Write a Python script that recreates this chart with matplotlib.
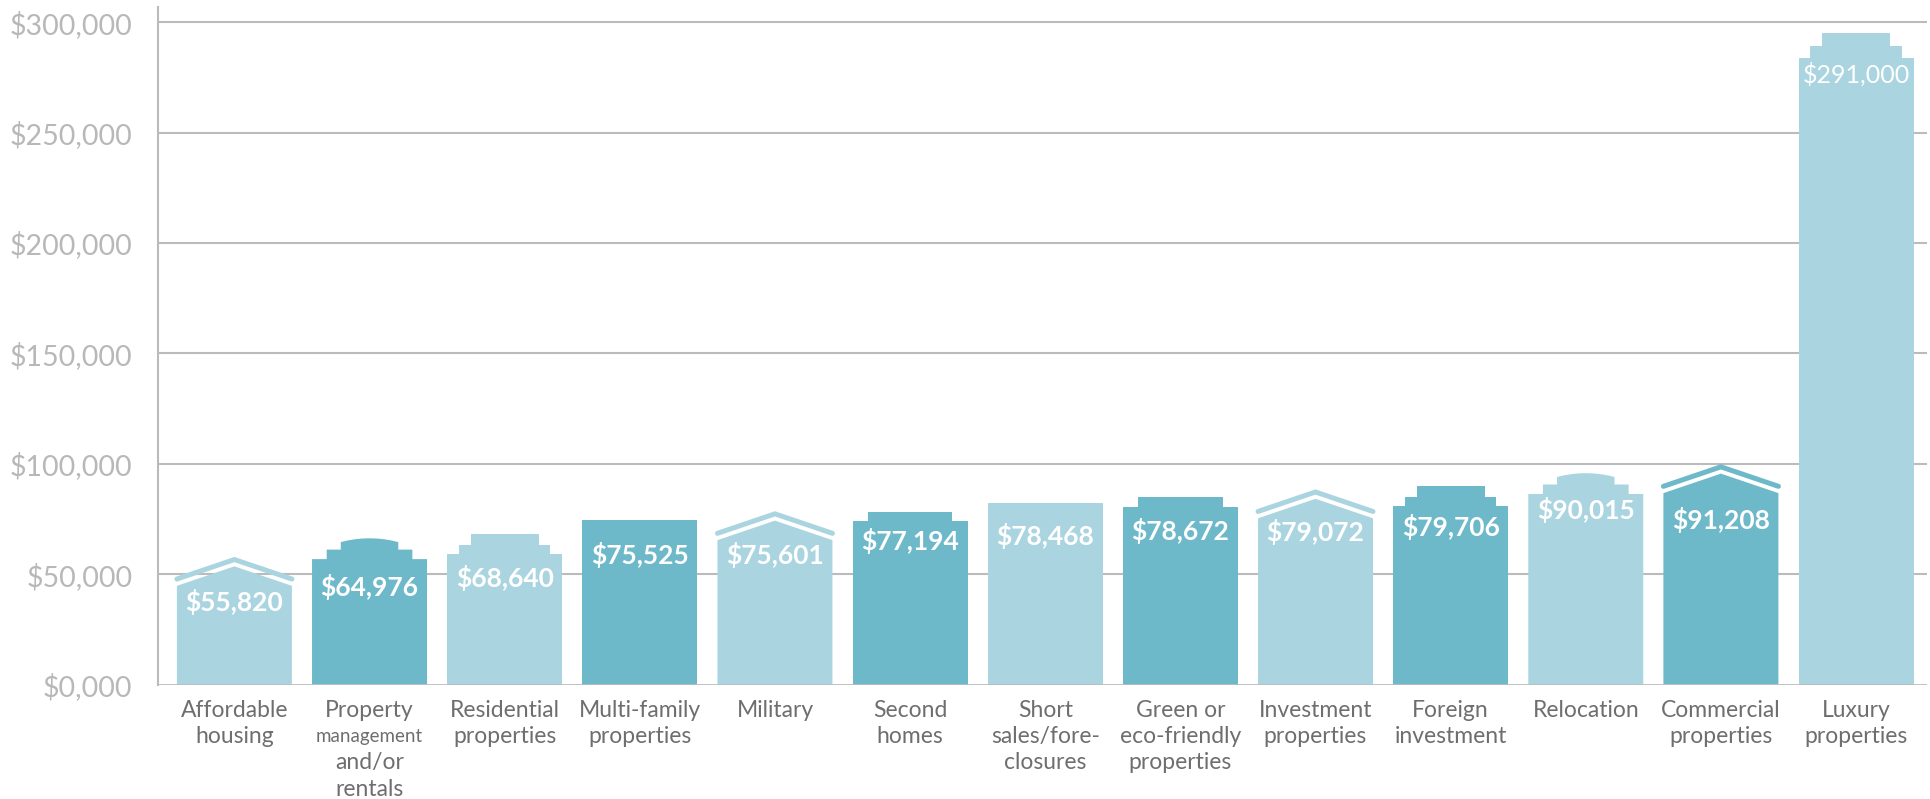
import matplotlib
matplotlib.use("Agg")
import matplotlib.pyplot as plt
from matplotlib.patches import Polygon
import numpy as np

# ---------------- data ----------------
categories = [
    "Affordable\nhousing",
    "Property\nmanagement\nand/or\nrentals",
    "Residential\nproperties",
    "Multi-family\nproperties",
    "Military",
    "Second\nhomes",
    "Short\nsales/fore-\nclosures",
    "Green or\neco-friendly\nproperties",
    "Investment\nproperties",
    "Foreign\ninvestment",
    "Relocation",
    "Commercial\nproperties",
    "Luxury\nproperties",
]
values = [55820, 64976, 68640, 75525, 75601, 77194, 78468, 78672,
          79072, 79706, 90015, 91208, 291000]
value_labels = ["$55,820", "$64,976", "$68,640", "$75,525", "$75,601", "$77,194",
                "$78,468", "$78,672", "$79,072", "$79,706", "$90,015", "$91,208",
                "$291,000"]
# height of the house walls (eaves) as drawn in the picture
eave_heights = [44700, 56800, 59100, 74500, 65400, 73900, 82200, 80500,
                75300, 80800, 86300, 86700, 283900]
roof_types = ["gable", "dome", "step2", "flat", "gable", "step1", "flat", "step1",
              "gable", "step2", "dome", "gable", "step2"]
ytick_values = [0, 50000, 100000, 150000, 200000, 250000, 300000]
ytick_labels = ["$0,000", "$50,000", "$100,000", "$150,000", "$200,000",
                "$250,000", "$300,000"]

# ---------------- style ----------------
LIGHT = "#AAD5E0"
DARK = "#6DB8C9"
colors = [LIGHT if i % 2 == 0 else DARK for i in range(len(categories))]
GRID = "#BBBBBB"
TICK_COLOR = "#B8B8B8"
CAT_COLOR = "#6E6E6E"
FONT = ["Lato", "DejaVu Sans"]
roof_scale = [1.0] * 12 + [1.25]
label_drop_px = [16, 27.7, 24.3, 35, 15, 19.4, 33, 24.3, 13.7, 20.7, 16, 27, 16.3]
label_weight = ["bold"] * 12 + ["normal"]
label_size = [19] * 12 + [18]
small_lines = {(1, 1)}  # (category index, line index) drawn smaller

W_PX, H_PX, DPI = 1931, 799, 100
fig = plt.figure(figsize=(W_PX / DPI, H_PX / DPI), dpi=DPI)
ax_left, ax_right = 158.5 / W_PX, 1927 / W_PX
ax_bottom = (H_PX - 684.5) / H_PX
ax_top = 1 - 7.3 / H_PX
ax = fig.add_axes([ax_left, ax_bottom, ax_right - ax_left, ax_top - ax_bottom])

XMIN, XMAX = -0.5616, 12.525
YMAX = 306800
ax.set_xlim(XMIN, XMAX)
ax.set_ylim(0, YMAX)

ax_w_px = (ax_right - ax_left) * W_PX
ax_h_px = (ax_top - ax_bottom) * H_PX
PY = YMAX / ax_h_px          # data units per pixel (y)
PX = (XMAX - XMIN) / ax_w_px  # data units per pixel (x)

half_w = 0.4255


def roof_profile(kind, s):
    if kind == "flat":
        return [(-1, 0), (1, 0)]
    if kind == "gable":
        return [(-1, 0), (0, 19.5 * s), (1, 0)]
    if kind == "step1":
        a, h = 0.735, 9.5 * s
        return [(-1, 0), (-a, 0), (-a, h), (a, h), (a, 0), (1, 0)]
    if kind == "step2":
        a, b = 0.795, 0.59
        h1, h2 = 9.5 * s, 20 * s
        return [(-1, 0), (-a, 0), (-a, h1), (-b, h1), (-b, h2),
                (b, h2), (b, h1), (a, h1), (a, 0), (1, 0)]
    if kind == "dome":
        a, b = 0.745, 0.5
        h1, h2, sag = 9.5 * s, 17 * s, 3.8 * s
        hw = b * half_w / PX
        R = (hw ** 2 + sag ** 2) / (2 * sag)
        arc = []
        for t in np.linspace(-1, 1, 41):
            dx = t * hw
            arc.append((t * b, h2 + np.sqrt(R ** 2 - dx ** 2) - (R - sag)))
        return ([(-1, 0), (-a, 0), (-a, h1), (-b, h1), (-b, h2)] + arc +
                [(b, h2), (b, h1), (a, h1), (a, 0), (1, 0)])
    raise ValueError(kind)


x = np.arange(len(categories))

# grid lines
for yv in ytick_values[1:]:
    ax.axhline(yv, color=GRID, lw=1.5, zorder=0)
ax.axhline(0, color=GRID, lw=2.0, zorder=4)

for i, cx in enumerate(x):
    eave = eave_heights[i]
    prof = roof_profile(roof_types[i], roof_scale[i])
    pts = [(cx - half_w, 0)]
    for u, h in prof:
        pts.append((cx + u * half_w, eave + h * PY))
    pts.append((cx + half_w, 0))
    ax.add_patch(Polygon(pts, closed=True, facecolor=colors[i], edgecolor="none",
                         zorder=2))
    if roof_types[i] == "gable":
        off = 6.8
        xs = [cx - half_w, cx, cx + half_w]
        ys = [eave + off * PY, eave + (19.5 + off) * PY, eave + off * PY]
        ax.plot(xs, ys, color=colors[i], lw=3.6, solid_capstyle="round",
                solid_joinstyle="miter", zorder=2)
    ax.text(cx, eave - label_drop_px[i] * PY, value_labels[i], ha="center",
            va="center", color="white", fontsize=label_size[i],
            fontweight=label_weight[i], family=FONT, zorder=5)

# category labels
for i, cx in enumerate(x):
    for j, line in enumerate(categories[i].split("\n")):
        small = (i, j) in small_lines
        ax.annotate(line, xy=(cx, 0), xycoords="data",
                    xytext=(0, -(25.8 + 26.3 * j) * 72 / DPI),
                    textcoords="offset points", ha="center", va="center",
                    fontsize=13.5 if small else 16.5, color=CAT_COLOR,
                    family=FONT, annotation_clip=False)

ax.set_xticks([])
ax.set_yticks(ytick_values)
ax.set_yticklabels(ytick_labels, family=FONT, fontsize=20.5, color=TICK_COLOR,
                   fontweight="normal")
ax.tick_params(axis="y", length=0, pad=26 * 72 / DPI)

for side in ["top", "right", "bottom"]:
    ax.spines[side].set_visible(False)
ax.spines["left"].set_color(GRID)
ax.spines["left"].set_linewidth(1.5)
ax.spines["left"].set_zorder(4)

fig.savefig("out.png", dpi=DPI)
